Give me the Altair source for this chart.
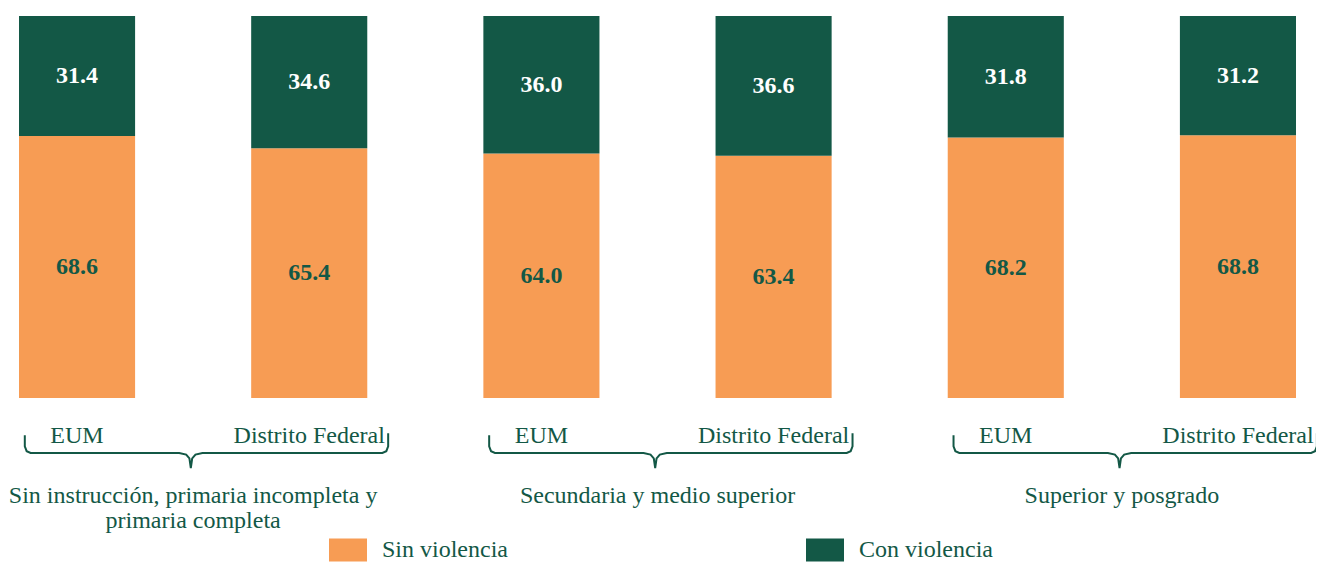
import altair as alt
import pandas as pd

# ---- data ----
grupos = ["Sin instrucción, primaria incompleta y\nprimaria completa",
          "Secundaria y medio superior",
          "Superior y posgrado"]
entidades = ["EUM", "Distrito Federal"]
series = ["Sin violencia", "Con violencia"]
sin_violencia = [68.6, 65.4, 64.0, 63.4, 68.2, 68.8]
con_violencia = [31.4, 34.6, 36.0, 36.6, 31.8, 31.2]

ORANGE = "#F79C54"
GREEN = "#135846"
FONT = "'Liberation Serif', 'Times New Roman', 'DejaVu Serif', serif"

rows = []
for i in range(6):
    for k, (s, vals) in enumerate(zip(series, [sin_violencia, con_violencia])):
        rows.append({"pos": i, "entidad": entidades[i % 2], "serie": s,
                     "ord": k, "valor": vals[i]})
bars_df = pd.DataFrame(rows)

ent_df = pd.DataFrame({"pos": list(range(6)),
                       "entidad": [entidades[i % 2] for i in range(6)]})
grp_df = pd.DataFrame({"pos": [2 * g + 0.5 for g in range(3)], "grupo": grupos})

# curly braces under each pair (shape relative to bar positions)
brace_rows = []
for g in range(3):
    L = 2 * g - 0.225
    R = 2 * g + 1 + 0.34
    m = 2 * g + 0.49
    pts = [(L, -9.7), (L, -12.6), (L + 0.008, -13.9), (L + 0.025, -14.37),
           (m - 0.05, -14.37), (m - 0.02, -14.8), (m - 0.006, -15.8), (m, -18.3),
           (m + 0.006, -15.8), (m + 0.02, -14.8), (m + 0.05, -14.37),
           (R - 0.025, -14.37), (R - 0.008, -13.9), (R, -12.6), (R, -9.2)]
    for j, (x, y) in enumerate(pts):
        brace_rows.append({"g": g, "j": j, "bx": x, "by": y})
brace_df = pd.DataFrame(brace_rows)

xs = alt.Scale(domain=[-0.25, 5.25], nice=False, zero=False)
ys = alt.Scale(domain=[-34, 100], nice=False, zero=False)

base = alt.Chart(bars_df).transform_stack(
    stack="valor", groupby=["pos"], as_=["y0", "y1"],
    sort=[alt.SortField("ord", order="ascending")]
).transform_calculate(
    x0="datum.pos - 0.25", x1="datum.pos + 0.25", ymid="(datum.y0 + datum.y1) / 2"
)

bars = base.mark_bar().encode(
    x=alt.X("x0:Q", scale=xs, axis=None),
    x2="x1:Q",
    y=alt.Y("y0:Q", scale=ys, axis=None),
    y2="y1:Q",
    color=alt.Color("serie:N", scale=alt.Scale(domain=series, range=[ORANGE, GREEN]),
                    legend=alt.Legend(title=None, orient="none", legendX=310, legendY=515,
                                      direction="horizontal", columns=2,
                                      symbolType="M-1,-0.605H1V0.605H-1Z", symbolSize=1444,
                                      symbolStrokeWidth=0, symbolOpacity=1,
                                      labelFont=FONT, labelFontSize=24, labelColor=GREEN,
                                      labelOffset=15, columnPadding=298, labelLimit=400,
                                      padding=0)),
)

vals = base.mark_text(font=FONT, fontSize=24, fontWeight="bold", baseline="middle").encode(
    x=alt.X("pos:Q", scale=xs, axis=None),
    y=alt.Y("ymid:Q", scale=ys, axis=None),
    text=alt.Text("valor:Q", format=".1f"),
    color=alt.condition(alt.datum.serie == "Con violencia", alt.value("white"), alt.value(GREEN)),
)

ent = alt.Chart(ent_df).mark_text(font=FONT, fontSize=24, color=GREEN,
                                  baseline="alphabetic").encode(
    x=alt.X("pos:Q", scale=xs, axis=None),
    y=alt.value(427),
    text="entidad:N",
)

grp = alt.Chart(grp_df).mark_text(font=FONT, fontSize=24, color=GREEN, baseline="alphabetic",
                                  lineBreak="\n", lineHeight=25).encode(
    x=alt.X("pos:Q", scale=xs, axis=None),
    y=alt.value(487),
    text="grupo:N",
)

braces = alt.Chart(brace_df).mark_line(color=GREEN, strokeWidth=2).encode(
    x=alt.X("bx:Q", scale=xs, axis=None),
    y=alt.Y("by:Q", scale=ys, axis=None),
    detail="g:N",
    order="j:Q",
)

chart = alt.layer(bars, vals, braces, ent, grp).properties(
    width=1277, height=512,
    padding={"left": 11, "top": 8, "right": 20, "bottom": 40},
    autosize=alt.AutoSizeParams(type="none"),
).configure_view(stroke=None)

chart.save("out.html", embed_options={"renderer": "svg", "actions": False})
